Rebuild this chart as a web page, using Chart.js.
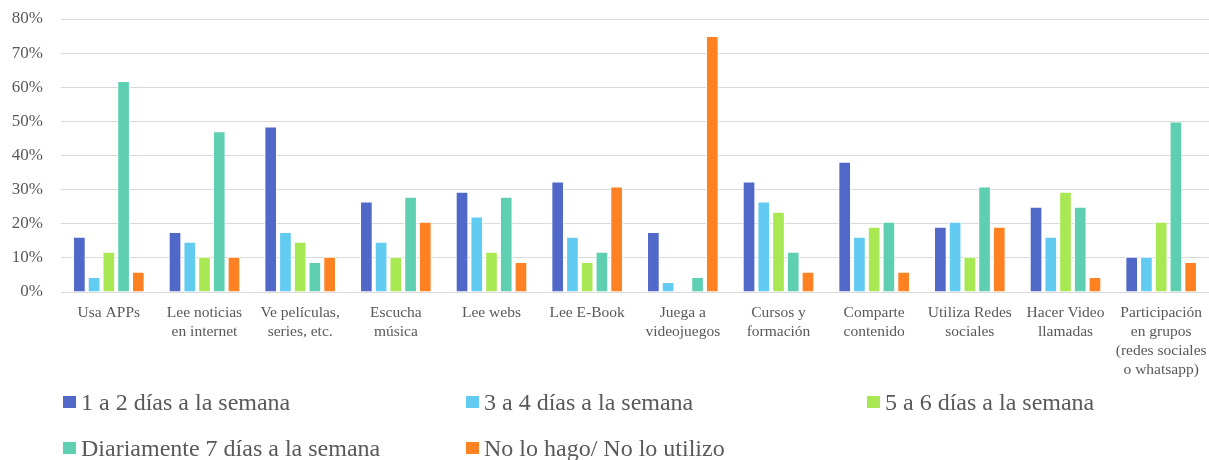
<!DOCTYPE html>
<html>
<head>
<meta charset="utf-8">
<script src="https://cdn.jsdelivr.net/npm/chart.js@4/dist/chart.umd.min.js"></script>
<style>
  html, body { margin: 0; padding: 0; background: #fff; }
  #wrap { position: relative; width: 1209px; height: 460px; }
  #legend { position: absolute; left: 0; top: 0; width: 100%; height: 100%; pointer-events: none; }
  .lg-item { position: absolute; display: flex; align-items: center; font-family: 'Liberation Serif', 'Times New Roman', serif; font-size: 24px; color: #595959; white-space: nowrap; }
  .lg-box { width: 13px; height: 12px; margin-right: 5px; }
</style>
</head>
<body>
<div id="wrap">
  <canvas id="chart" width="1209" height="460"></canvas>
  <div id="legend"></div>
</div>
<script>
/* ── Data ── */
const categories = [
  'Usa APPs',
  ['Lee noticias', 'en internet'],
  ['Ve películas,', 'series, etc.'],
  ['Escucha', 'música'],
  'Lee webs',
  'Lee E-Book',
  ['Juega a', 'videojuegos'],
  ['Cursos y', 'formación'],
  ['Comparte', 'contenido'],
  ['Utiliza Redes', 'sociales'],
  ['Hacer Video', 'llamadas'],
  ['Participación', 'en grupos', '(redes sociales', 'o whatsapp)']
];
const seriesNames = [
  '1 a 2 días a la semana',
  '3 a 4 días a la semana',
  '5 a 6 días a la semana',
  'Diariamente 7 días a la semana',
  'No lo hago/ No lo utilizo'
];
const unoADos    = [16.2, 17.6, 48.5, 26.5, 29.4, 32.4, 17.6, 32.4, 38.2, 19.1, 25.0, 10.3];
const tresACuatro = [4.4, 14.7, 17.6, 14.7, 22.1, 16.2, 2.9, 26.5, 16.2, 20.6, 16.2, 10.3];
const cincoASeis = [11.8, 10.3, 14.7, 10.3, 11.8, 8.8, 0, 23.5, 19.1, 10.3, 29.4, 20.6];
const diariamente = [61.8, 47.1, 8.8, 27.9, 27.9, 11.8, 4.4, 11.8, 20.6, 30.9, 25.0, 50.0];
const noLoHago   = [5.9, 10.3, 10.3, 20.6, 8.8, 30.9, 75.0, 5.9, 5.9, 19.1, 4.4, 8.8];
const yTicks = [0, 10, 20, 30, 40, 50, 60, 70, 80];

const colors = ['#5068C8', '#61CBF2', '#A8E852', '#5ECFB1', '#FF8122'];
const seriesValues = [unoADos, tresACuatro, cincoASeis, diariamente, noLoHago];

/* ── Chart ── */
const FONT = "'Liberation Serif', 'Times New Roman', serif";
const GRAY = '#595959';

new Chart(document.getElementById('chart'), {
  type: 'bar',
  data: {
    labels: categories,
    datasets: seriesNames.map((name, i) => ({
      label: name,
      data: seriesValues[i],
      backgroundColor: colors[i],
      borderColor: '#ffffff',
      borderWidth: 1,
      borderSkipped: 'bottom',
      categoryPercentage: 0.77,
      barPercentage: 0.86,
    }))
  },
  options: {
    responsive: false,
    animation: false,
    layout: { padding: { top: 19, right: 0, left: 0, bottom: 0 } },
    plugins: { legend: { display: false }, tooltip: { enabled: false } },
    scales: {
      x: {
        grid: { display: false },
        border: { display: false },
        ticks: {
          autoSkip: false, maxRotation: 0, minRotation: 0, padding: 3,
          color: GRAY, font: { family: FONT, size: 15.5, lineHeight: 1.23 }
        },
        afterFit: s => { s.height = 168; s.paddingLeft = 0; s.paddingRight = 0; }
      },
      y: {
        min: 0, max: 80,
        afterBuildTicks: s => { s.ticks = yTicks.map(v => ({ value: v })); },
        grid: { color: '#d9d9d9', lineWidth: 1, drawTicks: false },
        border: { display: false },
        ticks: {
          padding: 18, color: GRAY, font: { family: FONT, size: 17 },
          callback: v => v + '%'
        },
        afterFit: s => { s.width = 61; s.paddingTop = 0; s.paddingBottom = 0; }
      }
    }
  }
});

/* ── Legend (HTML) ── */
const legendSlots = [[63, 402], [466, 402], [867, 402], [63, 448], [466, 448]];
const legendEl = document.getElementById('legend');
seriesNames.forEach((name, i) => {
  const item = document.createElement('div');
  item.className = 'lg-item';
  item.style.left = legendSlots[i][0] + 'px';
  item.style.top = (legendSlots[i][1] - 15) + 'px';
  item.style.height = '30px';
  item.innerHTML = `<span class="lg-box" style="background:${colors[i]}"></span>${name}`;
  legendEl.appendChild(item);
});
</script>
</body>
</html>
